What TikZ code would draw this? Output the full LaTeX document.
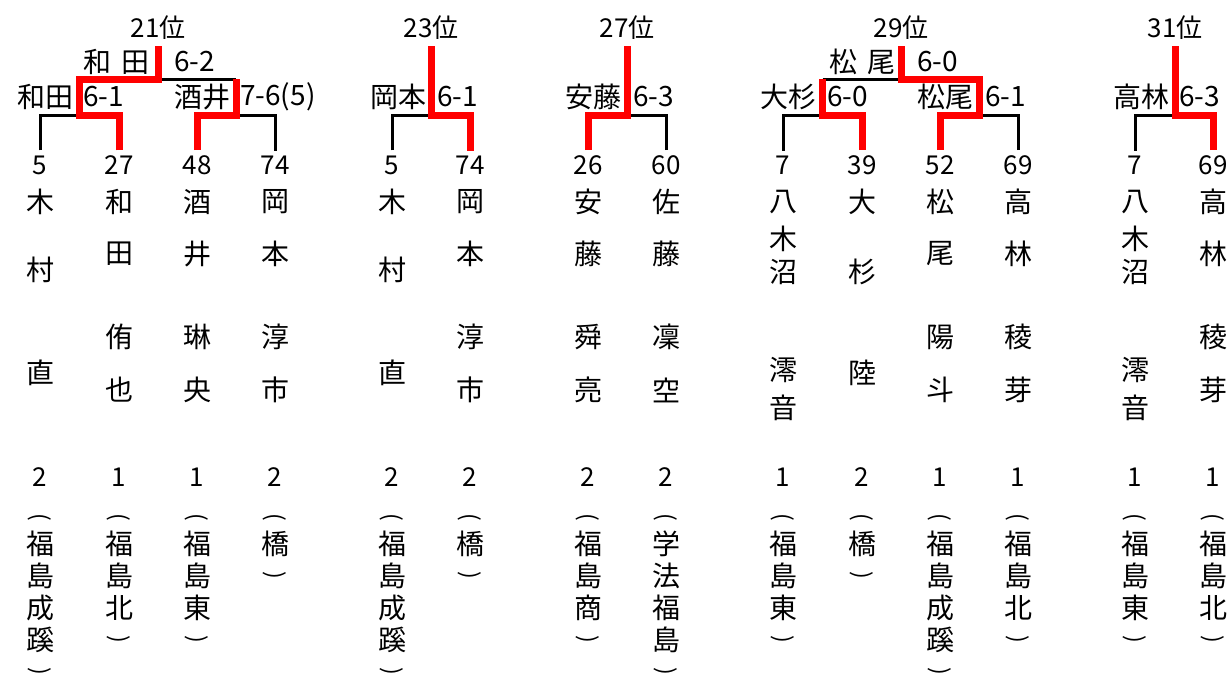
\documentclass[tikz,border=0pt]{standalone}
\usepackage{fontspec}
\setmainfont{Noto Sans CJK JP}
\usetikzlibrary{positioning}
\tikzstyle{kuro} = [draw=black, line width=3pt]
\tikzstyle{aka} = [draw=red, line width=7pt]
\tikzstyle{juni} = [font=\fontsize{26}{30}\selectfont, inner sep=6pt]
\tikzstyle{kekka} = [font=\fontsize{28}{30}\selectfont, inner sep=0pt]
\tikzstyle{bango} = [font=\fontsize{26}{30}\selectfont, inner sep=5pt]
\tikzstyle{moji} = [font=\fontsize{28}{30}\selectfont, inner sep=0pt]
% vertical brackets
\newcommand{\hiraku}{{\fontsize{23}{26}\selectfont\rotatebox{-90}{(}}}
\newcommand{\tojiru}{{\fontsize{23}{26}\selectfont\rotatebox{-90}{)}}}
% player: seed number and name written downwards
\newcommand{\senshu}[4]{%
	\node[bango] (#1) at (#2,165) {#3};
	\foreach \ch/\y [count=\k] in {#4} {\node[moji] (#1-\k) at (#2,\y) {\ch};}
}
% grade and school written downwards
\newcommand{\gakko}[4]{%
	\node[bango] (#1-nen) at (#2,477) {#3};
	\node[moji] (#1-ko0) at (#2,517) {\hiraku};
	\foreach \ch [count=\k] in {#4} {\node[moji] (#1-ko\k) at (#2,511.5+32*\k) {\ch};}
}
\begin{document}
\begin{tikzpicture}[x=1pt,y=-1pt]
	\useasboundingbox (0,0) rectangle (1229,680);
	% 21位
	\senshu{kimuraA}{40}{5}{木/202, 村/270, 直/373}
	\gakko{kimuraA}{40}{2}{福, 島, 成, 蹊, \tojiru}
	\senshu{wada}{119}{27}{和/202, 田/254, 侑/337, 也/390}
	\gakko{wada}{119}{1}{福, 島, 北, \tojiru}
	\senshu{sakai}{197}{48}{酒/202, 井/254, 琳/337, 央/390}
	\gakko{sakai}{197}{1}{福, 島, 東, \tojiru}
	\senshu{okamotoA}{275}{74}{岡/202, 本/254, 淳/337, 市/390}
	\gakko{okamotoA}{275}{2}{橋, \tojiru}
	\coordinate (m1) at (79.5,115);
	\coordinate (m2) at (236,115);
	\coordinate (f1) at (158,79);
	\coordinate (h1) at (m1 |- f1);
	\coordinate (h2) at (m2 |- f1);
	\node[juni] (t21) at (158,28) {21位};
	\node[kekka, anchor=east] (n1) at (74,97) {和田};
	\node[kekka, anchor=west] (s1) at (83,97) {6-1};
	\node[kekka, anchor=east] (n2) at (231,97) {酒井};
	\node[kekka, anchor=west] (s2) at (240,97) {7-6(5)};
	\node[kekka, anchor=east] (n3) at (150,62) {和 \hspace{4pt}田};
	\node[kekka, anchor=west] (s3) at (174,62) {6-2};
	\draw[kuro] (kimuraA.north) |- (m1);
	\draw[kuro] (okamotoA.north) |- (m2);
	\draw[kuro] (h2) -- (f1);
	\draw[aka] (sakai.north) |- (m2) -- (h2);
	\draw[aka] (wada.north) |- (m1) -- (h1) -- (f1) -- (t21.south);
	% 23位
	\senshu{kimuraB}{392}{5}{木/202, 村/270, 直/373}
	\gakko{kimuraB}{392}{2}{福, 島, 成, 蹊, \tojiru}
	\senshu{okamotoB}{470}{74}{岡/202, 本/254, 淳/337, 市/390}
	\gakko{okamotoB}{470}{2}{橋, \tojiru}
	\coordinate (m3) at (431,115);
	\node[juni] (t23) at (431,28) {23位};
	\node[kekka, anchor=east] (n4) at (427,97) {岡本};
	\node[kekka, anchor=west] (s4) at (437,97) {6-1};
	\draw[kuro] (kimuraB.north) |- (m3);
	\draw[aka] (okamotoB.north) |- (m3) -- (t23.south);
	% 27位
	\senshu{ando}{588}{26}{安/202, 藤/254, 舜/337, 亮/390}
	\gakko{ando}{588}{2}{福, 島, 商, \tojiru}
	\senshu{sato}{666}{60}{佐/202, 藤/254, 凜/337, 空/390}
	\gakko{sato}{666}{2}{学, 法, 福, 島, \tojiru}
	\coordinate (m4) at (627,115);
	\node[juni] (t27) at (627,28) {27位};
	\node[kekka, anchor=east] (n5) at (622,97) {安藤};
	\node[kekka, anchor=west] (s5) at (633,97) {6-3};
	\draw[kuro] (sato.north) |- (m4);
	\draw[aka] (ando.north) |- (m4) -- (t27.south);
	% 29位
	\senshu{yaginumaA}{783}{7}{八/202, 木/239, 沼/272, 澪/370, 音/408}
	\gakko{yaginumaA}{783}{1}{福, 島, 東, \tojiru}
	\senshu{osugi}{862}{39}{大/202, 杉/272, 陸/373}
	\gakko{osugi}{862}{2}{橋, \tojiru}
	\senshu{matsuo}{940}{52}{松/202, 尾/254, 陽/337, 斗/390}
	\gakko{matsuo}{940}{1}{福, 島, 成, 蹊, \tojiru}
	\senshu{takabayashiA}{1018}{69}{高/202, 林/254, 稜/337, 芽/390}
	\gakko{takabayashiA}{1018}{1}{福, 島, 北, \tojiru}
	\coordinate (m5) at (822.5,115);
	\coordinate (m6) at (979,115);
	\coordinate (f2) at (901,79);
	\coordinate (h5) at (m5 |- f2);
	\coordinate (h6) at (m6 |- f2);
	\node[juni] (t29) at (901,28) {29位};
	\node[kekka, anchor=east] (n6) at (817,97) {大杉};
	\node[kekka, anchor=west] (s6) at (827,97) {6-0};
	\node[kekka, anchor=east] (n7) at (974,97) {松尾};
	\node[kekka, anchor=west] (s7) at (985,97) {6-1};
	\node[kekka, anchor=east] (n8) at (896,62) {松 \hspace{4pt}尾};
	\node[kekka, anchor=west] (s8) at (917,62) {6-0};
	\draw[kuro] (yaginumaA.north) |- (m5);
	\draw[kuro] (takabayashiA.north) |- (m6);
	\draw[kuro] (h5) -- (f2);
	\draw[aka] (osugi.north) |- (m5) -- (h5);
	\draw[aka] (matsuo.north) |- (m6) -- (h6) -- (f2) -- (t29.south);
	% 31位
	\senshu{yaginumaB}{1135}{7}{八/202, 木/239, 沼/272, 澪/370, 音/408}
	\gakko{yaginumaB}{1135}{1}{福, 島, 東, \tojiru}
	\senshu{takabayashiB}{1213}{69}{高/202, 林/254, 稜/337, 芽/390}
	\gakko{takabayashiB}{1213}{1}{福, 島, 北, \tojiru}
	\coordinate (m7) at (1175,115);
	\node[juni] (t31) at (1175,28) {31位};
	\node[kekka, anchor=east] (n9) at (1170,97) {高林};
	\node[kekka, anchor=west] (s9) at (1179,97) {6-3};
	\draw[kuro] (yaginumaB.north) |- (m7);
	\draw[aka] (takabayashiB.north) |- (m7) -- (t31.south);
\end{tikzpicture}
\end{document}
